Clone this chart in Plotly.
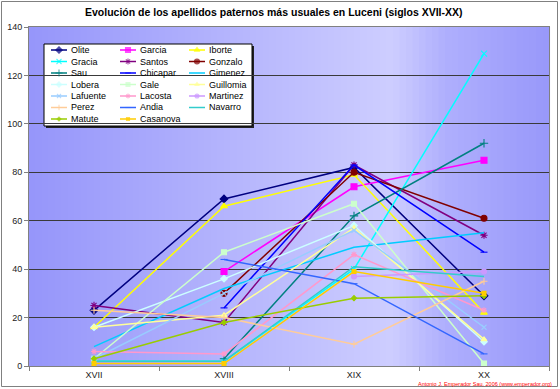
import plotly.graph_objects as go

# ---------------- data ----------------
periods = ["XVII", "XVIII", "XIX", "XX"]

names = ["Olite", "Garcia", "Iborte", "Gracia", "Santos", "Gonzalo", "Sau",
         "Chicapar", "Gimenez", "Lobera", "Gale", "Guillomia", "Lafuente",
         "Lacosta", "Martinez", "Perez", "Andia", "Navarro", "Matute", "Casanova"]

olite     = [23, 69, 82, 29]
garcia    = [None, 39, 74, 85]
iborte    = [16, 66, 79, 22]
gracia    = [2, 2, 40, 129]
santos    = [25, 18, 83, 54]
gonzalo   = [None, 30, 80, 61]
sau       = [None, 3, 62, 92]
chicapar  = [None, 24, 83, 47]
gimenez   = [8, 32, 49, 55]
lobera    = [16, 36, 58, 10]
gale      = [3, 47, 67, 1]
guillomia = [16, 21, 57, 11]
lafuente  = [3, 30, 56, 16]
lacosta   = [6, 5, 46, 23]
martinez  = [None, None, 37, 39]
perez     = [23, 20, 9, 35]
andia     = [None, 44, 34, 5]
navarro   = [2, 2, 41, 37]
matute    = [3, 18, 28, 29]
casanova  = [1, 1, 39, 30]

values = [olite, garcia, iborte, gracia, santos, gonzalo, sau, chicapar, gimenez,
          lobera, gale, guillomia, lafuente, lacosta, martinez, perez, andia,
          navarro, matute, casanova]

# ---------------- styles ----------------
colors = ["#000080", "#FF00FF", "#FFFF00", "#00FFFF", "#800080", "#800000", "#008080",
          "#0000FF", "#00CCFF", "#CCFFFF", "#CCFFCC", "#FFFF99", "#99CCFF", "#FF99CC",
          "#CC99FF", "#FFCC99", "#3366FF", "#33CCCC", "#99CC00", "#FFCC00"]
symbols = ["diamond", "square", "triangle-up", "x-thin-open", "asterisk-open", "circle",
           "cross-thin-open", "line-ew-open", None, "diamond", "square", "triangle-up",
           "x-thin-open", "asterisk-open", "circle", "cross-thin-open", "line-ew-open", None,
           "diamond", "square"]
msizes = [6, 6, 6, 6, 6, 6, 6, 5, 0, 5, 5, 5, 5, 5, 5, 5, 5, 0, 4, 4]

W, H = 560, 389
L, R, T, B = 29, 11, 27, 23
PW, PH = W - L - R, H - T - B
FONT = "Liberation Sans, Arial, sans-serif"


def px(xp):
    return (xp - L) / PW


def py(yp):
    return (H - B - yp) / PH


fig = go.Figure()

for name, vals, col, sym, ms in zip(names, values, colors, symbols, msizes):
    if sym is None:
        fig.add_trace(go.Scatter(x=periods, y=vals, mode="lines", name=name,
                                 line=dict(color=col, width=1.5), connectgaps=False,
                                 showlegend=False))
    else:
        mk = dict(size=ms, color=col, symbol=sym, line=dict(color=col, width=1.1))
        fig.add_trace(go.Scatter(x=periods, y=vals, mode="lines+markers", name=name,
                                 line=dict(color=col, width=1.5), marker=mk,
                                 connectgaps=False, showlegend=False, cliponaxis=False))

# ---------------- background gradient ----------------
stops = [(0.0, (150, 150, 250)), (0.70, (205, 205, 255)), (0.80, (175, 175, 253)),
         (1.0, (152, 152, 250))]


def grad(t):
    for (t0, c0), (t1, c1) in zip(stops[:-1], stops[1:]):
        if t0 <= t <= t1:
            f = (t - t0) / (t1 - t0)
            return "rgb(%d,%d,%d)" % tuple(round(a + (b - a) * f) for a, b in zip(c0, c1))
    return "rgb(150,150,250)"


shapes = []
N = 80
for i in range(N):
    shapes.append(dict(type="rect", xref="paper", yref="paper", x0=i / N, x1=(i + 1) / N + 0.002,
                       y0=0, y1=1, fillcolor=grad((i + 0.5) / N), line=dict(width=0), layer="below"))

# ---------------- legend (drawn manually) ----------------
LX0, LX1, LY0, LY1 = 44, 252, 44, 126
shapes.append(dict(type="rect", xref="paper", yref="paper", x0=px(LX0 + 2), x1=px(LX1 + 2),
                   y0=py(LY1 + 2), y1=py(LY0 + 2), fillcolor="#222222", line=dict(width=0),
                   layer="between"))
shapes.append(dict(type="rect", xref="paper", yref="paper", x0=px(LX0), x1=px(LX1),
                   y0=py(LY1), y1=py(LY0), fillcolor="white", line=dict(color="black", width=1),
                   layer="between"))

annotations = []
for i, (name, col, sym, ms) in enumerate(zip(names, colors, symbols, msizes)):
    c, r = i % 3, i // 3
    x0 = 51 + 69 * c
    yy = 50 + 11.5 * r
    if sym is None:
        fig.add_trace(go.Scatter(x=[x0, x0 + 16], y=[yy, yy], mode="lines",
                                 xaxis="x2", yaxis="y2", line=dict(color=col, width=1.5),
                                 showlegend=False, hoverinfo="skip"))
    else:
        mk = dict(size=[0, ms - 1, 0], color=col, symbol=sym, line=dict(color=col, width=1.1))
        fig.add_trace(go.Scatter(x=[x0, x0 + 8, x0 + 16], y=[yy, yy, yy], mode="lines+markers",
                                 xaxis="x2", yaxis="y2", line=dict(color=col, width=1.5),
                                 marker=mk, showlegend=False, hoverinfo="skip",
                                 cliponaxis=False))
    annotations.append(dict(x=px(x0 + 18), y=py(yy), xref="paper", yref="paper", text=name,
                            showarrow=False, xanchor="left", yanchor="middle",
                            font=dict(family=FONT, size=9, color="black")))

# title and credit
annotations.append(dict(x=px(274), y=py(12), xref="paper", yref="paper",
                        text="<b>Evolución de los apellidos paternos más usuales en Luceni (siglos XVII-XX)</b>",
                        showarrow=False, xanchor="center", yanchor="middle",
                        font=dict(family=FONT, size=10.5, color="black")))
annotations.append(dict(x=px(554), y=py(384), xref="paper", yref="paper",
                        text="Antonio J. Emperador Sau, 2006 (www.emperador.org)",
                        showarrow=False, xanchor="right", yanchor="middle",
                        font=dict(family=FONT, size=5.5, color="#FF0000")))

# outer chart border
shapes.append(dict(type="rect", xref="paper", yref="paper", x0=px(1.5), x1=px(557.5),
                   y0=py(386.5), y1=py(1.5), line=dict(color="#808080", width=1),
                   fillcolor="rgba(0,0,0,0)", layer="above"))

fig.update_layout(
    width=W, height=H, margin=dict(l=L, r=R, t=T, b=B, pad=0, autoexpand=False),
    paper_bgcolor="white", plot_bgcolor="#9999FF",
    font=dict(family=FONT, size=9, color="#222222"),
    shapes=shapes, annotations=annotations, showlegend=False, hovermode=False,
    xaxis=dict(type="category", categoryorder="array", categoryarray=periods,
               range=[-0.5, 3.5], showgrid=False, zeroline=False, showline=True,
               linecolor="#808080", linewidth=1, mirror=True, ticks="outside",
               tickson="boundaries", ticklen=4, tickcolor="#808080", automargin=False,
               tickfont=dict(family=FONT, size=9, color="#222222")),
    yaxis=dict(range=[0, 140], dtick=20, showgrid=True, gridcolor="#3a3a3a", gridwidth=1,
               zeroline=False, showline=True, linecolor="#808080", linewidth=1, mirror=True,
               ticks="outside", ticklen=4, tickcolor="#808080", automargin=False,
               tickfont=dict(family=FONT, size=9, color="#222222")),
    xaxis2=dict(overlaying="x", anchor="y2", range=[L, W - R], visible=False),
    yaxis2=dict(overlaying="y", anchor="x2", range=[H - B, T], visible=False),
)

fig.write_html("out.html", config={"displayModeBar": False, "staticPlot": True},
               post_script="document.body.style.margin='0';document.body.style.padding='0';")
